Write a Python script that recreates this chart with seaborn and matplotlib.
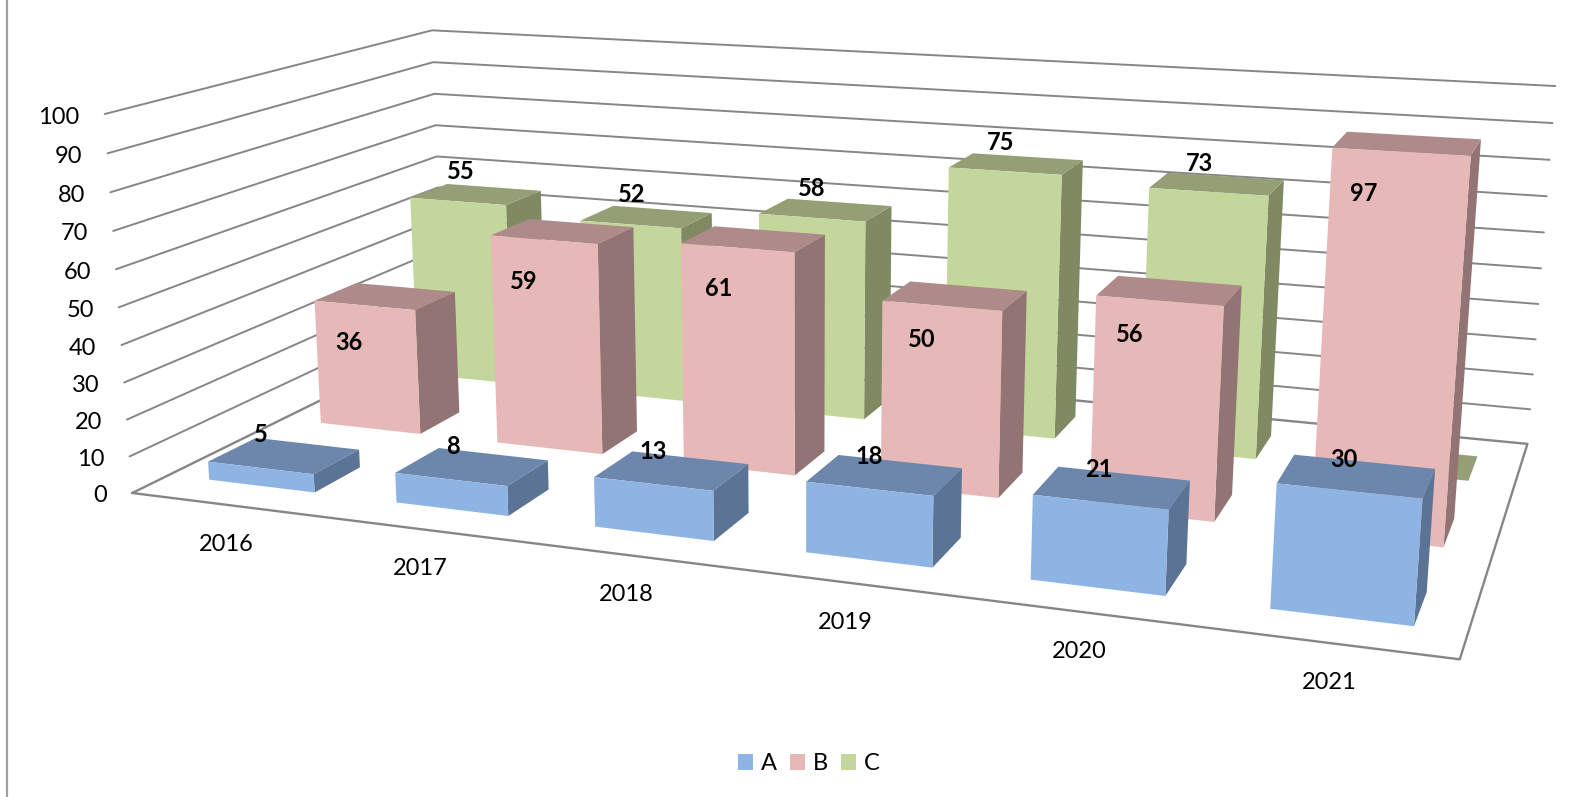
import numpy as np
import matplotlib
matplotlib.use('Agg')
import matplotlib.pyplot as plt
from matplotlib.patches import Patch
from matplotlib.colors import to_rgba
import seaborn as sns

years = ['2016', '2017', '2018', '2019', '2020', '2021']
series_names = ['A', 'B', 'C']
a_values = [5, 8, 13, 18, 21, 30]
b_values = [36, 59, 61, 50, 56, 97]
c_values = [55, 52, 58, 75, 73, 0]
y_ticks = [0, 10, 20, 30, 40, 50, 60, 70, 80, 90, 100]

front_colors = ['#8EB4E3', '#E6B9B8', '#C3D69B']
top_colors = ['#6C87AB', '#AE8B8A', '#949F75']
side_colors = ['#5B7394', '#937474', '#7F8A62']
grid_color = '#868686'

W, H = 1576, 797
BAR_W = 0.57
BAR_D = 0.41
BAR_X = 0.506  # bar centre inside its category slot

sns.set_theme(style='white')
plt.rcParams['font.family'] = ['Lato', 'DejaVu Sans']

fig = plt.figure(figsize=(W / 100, H / 100), dpi=100, facecolor='white')
# 3d axes is always square, so let it overflow the figure vertically
ax = fig.add_axes([0, (H - W) / 2 / H, 1, W / H], projection='3d')
ax.set_axis_off()
ax.set_proj_type('ortho')  # no clipping of the lines, the matrix below does the perspective
ax.computed_zorder = False
ax.set_xlim(0, 6)
ax.set_ylim(0, 3)
ax.set_zlim(0, 100)

# Excel's camera: fit a projective matrix to where the chart box corners land
box_pts = [(0, 0, 0), (6, 0, 0), (6, 3, 0), (0, 3, 0), (0, 0, 100), (0, 3, 100),
           (6, 3, 100), (0, 0, 50), (6, 3, 50)]
img_pts = [(133, 491), (1460, 661), (1527.7, 442), (443, 342), (104, 115), (433, 29),
           (1555, 87), (118.5, 307), (1541, 268)]
rows = []
for (x, y, z), (u, v) in zip(box_pts, img_pts):
    p = [x / 6, y / 3, z / 100, 1]
    u, v = u / W, v / H
    rows.append(p + [0, 0, 0, 0] + [-u * c for c in p])
    rows.append([0, 0, 0, 0] + p + [-v * c for c in p])
P = np.linalg.svd(np.array(rows))[2][-1].reshape(3, 4)
P = P @ np.diag([1 / 6, 1 / 3, 1 / 100, 1])
P = P / P[2, 3]


def to_px(x, y, z):
    q = P @ np.array([x, y, z, 1.0])
    return q[0] / q[2] * W, q[1] / q[2] * H


xlo, xhi = ax.viewLim.intervalx
ylo, yhi = ax.viewLim.intervaly
top = (W - H) / 2 / W  # part of the square above the figure
to_view = np.array([[xhi - xlo, 0, xlo],
                    [0, -(yhi - ylo) * H / W, yhi - (yhi - ylo) * top],
                    [0, 0, 1]])
Q = to_view @ P
M = np.vstack([Q[0], Q[1], Q[2] - np.array([0, 0, 0, 0.5]), Q[2]])
ax.get_proj = lambda: M

# walls and floor
for t in y_ticks[1:]:
    ax.plot([0, 0, 6], [0, 3, 3], [t, t, t], color=grid_color, lw=1.4, zorder=1)
ax.plot([0, 6, 6, 0, 0], [0, 0, 3, 3, 0], [0, 0, 0, 0, 0], color=grid_color, lw=1.7, zorder=1)

clear = to_rgba('white', 0)
all_values = [a_values, b_values, c_values]
for j, values in enumerate(all_values):
    faces = [clear, to_rgba(top_colors[j]), to_rgba(front_colors[j]), clear, clear,
             to_rgba(side_colors[j])]
    for i, v in enumerate(values):
        ax.bar3d(i + BAR_X - BAR_W / 2, j + 0.5 - BAR_D / 2, 0, BAR_W, BAR_D, v,
                 color=faces, shade=False, linewidth=0, zorder=10 + (2 - j) * 10 + i)

# Excel drops the value labels somewhere near the bar, pixel shifts from the top centre
label_shift = [
    [(-22, -21), (-18, -20), (-17, -19), (-14, -18), (-12, -18), (-11, -16)],
    [(-35, 46), (-38, 50), (-34, 50), (-32, 44), (-39, 44), (-42, 50)],
    [(-14, -23), (-14, -22), (-13, -21), (-14, -21), (-16, -20), (0, 0)],
]
for j, values in enumerate(all_values):
    for i, v in enumerate(values):
        if v == 0:
            continue
        px, py = to_px(i + 0.5, j + 0.5, v)
        dx, dy = label_shift[j][i]
        fig.text((px + dx) / W, 1 - (py + dy) / H, str(v), ha='center', va='center',
                 fontsize=17, fontweight='bold', color='black', zorder=50)

for t in y_ticks:
    px, py = to_px(0, 0, t)
    fig.text((px - 25) / W, 1 - (py + 3) / H, str(t), ha='right', va='center',
             fontsize=17, color='black')
for i, yr in enumerate(years):
    px, py = to_px(i + 0.5, 0, 0)
    fig.text((px + 1) / W, 1 - (py + 40) / H, yr, ha='center', va='center',
             fontsize=17, color='black')

# chart area border, only the left edge is in the crop
fig.add_artist(plt.Line2D([6.5 / W, 6.5 / W], [0, 1], color='#A0A0A0', lw=1.6))

handles = [Patch(facecolor=c, edgecolor='none', label=n) for c, n in zip(front_colors, series_names)]
fig.legend(handles=handles, loc='center', bbox_to_anchor=(809 / W, 1 - 764 / H), ncol=3, frameon=False,
           fontsize=17, handlelength=0.63, handleheight=0.63, handletextpad=0.35, columnspacing=0.55,
           labelcolor='black')

fig.savefig('out.png', dpi=100)
